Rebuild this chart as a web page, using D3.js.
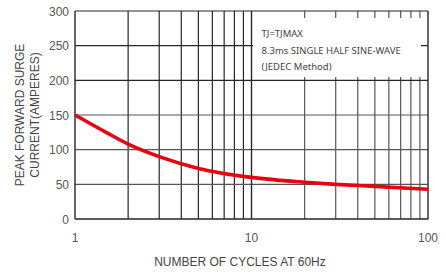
<!DOCTYPE html>
<meta charset="utf-8">
<style>
body { margin: 0; background: #fff; font-family: "Liberation Sans", Arial, sans-serif; }
.tick-label { font-size: 12px; fill: #555; }
.title { font-size: 12px; fill: #444; }
.note { font-size: 9.5px; fill: #444; font-family: "Noto Sans", sans-serif; }
</style>
<svg width="446" height="273"></svg>
<script src="https://d3js.org/d3.v7.min.js"></script>
<script>
// data
var cycles = [1, 1.5, 2, 3, 5, 10, 20, 30, 50, 100];
var amps = [150, 125, 108, 90, 73, 60, 53, 50, 47, 43];
var yTicks = [0, 50, 100, 150, 200, 250, 300];
var xTicks = [1, 10, 100];
var noteLines = ["TJ=TJMAX", "8.3ms SINGLE HALF SINE-WAVE", "(JEDEC Method)"];

var svg = d3.select("svg"),
    plotL = 75, plotR = 428, plotT = 11, plotB = 219;

var x = d3.scaleLog().domain([1, 100]).range([plotL, plotR]);
var y = d3.scaleLinear().domain([0, 300]).range([plotB, plotT]);

// vertical grid (decades + minor)
var minors = [];
[1, 10].forEach(function(d) { for (var i = 2; i <= 9; i++) minors.push(d * i); });

svg.append("g").selectAll("line")
  .data(minors)
  .enter().append("line")
    .attr("x1", function(d) { return x(d); })
    .attr("x2", function(d) { return x(d); })
    .attr("y1", plotT).attr("y2", plotB)
    .attr("stroke", function(d) { return d < 10 ? "#2a2424" : "#5a5454"; })
    .attr("stroke-width", 1.2);

svg.append("g").selectAll("line")
  .data(yTicks.slice(1))
  .enter().append("line")
    .attr("x1", plotL).attr("x2", plotR)
    .attr("y1", function(d) { return y(d); })
    .attr("y2", function(d) { return y(d); })
    .attr("stroke", function(d) { return d >= 200 ? "#2a2424" : "#5a5454"; })
    .attr("stroke-width", 1.2);

// decade lines + frame
svg.append("g").selectAll("line")
  .data(xTicks)
  .enter().append("line")
    .attr("x1", function(d) { return x(d); })
    .attr("x2", function(d) { return x(d); })
    .attr("y1", plotT).attr("y2", plotB)
    .attr("stroke", "#2a2424")
    .attr("stroke-width", 1.4);

svg.append("line")
    .attr("x1", plotL).attr("x2", plotR)
    .attr("y1", plotB).attr("y2", plotB)
    .attr("stroke", "#2a2424").attr("stroke-width", 1.6);

// note box
svg.append("rect")
    .attr("x", x(10) + 1.5).attr("y", 18)
    .attr("width", 168).attr("height", 59)
    .attr("fill", "#fff");

svg.append("g").selectAll("text")
  .data(noteLines)
  .enter().append("text")
    .attr("class", "note")
    .attr("x", x(10) + 10)
    .attr("y", function(d, i) { return 37 + i * 16.5; })
    .text(function(d) { return d; });

// curve
var line = d3.line()
    .x(function(d) { return x(d[0]); })
    .y(function(d) { return y(d[1]); })
    .curve(d3.curveMonotoneX);

svg.append("path")
    .datum(d3.zip(cycles, amps))
    .attr("d", line)
    .attr("fill", "none")
    .attr("stroke", "#e60012")
    .attr("stroke-width", 3.6);

// tick labels
svg.append("g").selectAll("text")
  .data(yTicks)
  .enter().append("text")
    .attr("class", "tick-label")
    .attr("x", plotL - 6)
    .attr("y", function(d) { return y(d) + 4.5; })
    .attr("text-anchor", "end")
    .text(function(d) { return d; });

svg.append("g").selectAll("text")
  .data(xTicks)
  .enter().append("text")
    .attr("class", "tick-label")
    .attr("x", function(d) { return x(d); })
    .attr("y", 242)
    .attr("text-anchor", "middle")
    .text(function(d) { return d; });

svg.append("text")
    .attr("class", "title")
    .attr("x", 240).attr("y", 266)
    .attr("text-anchor", "middle")
    .text("NUMBER OF CYCLES AT 60Hz");

var yt = svg.append("text")
    .attr("class", "title")
    .attr("transform", "translate(24,115) rotate(-90)")
    .attr("text-anchor", "middle");
yt.append("tspan").attr("x", 0).attr("dy", 0).text("PEAK FORWARD SURGE");
yt.append("tspan").attr("x", 0).attr("dy", 15).text("CURRENT(AMPERES)");
</script>
